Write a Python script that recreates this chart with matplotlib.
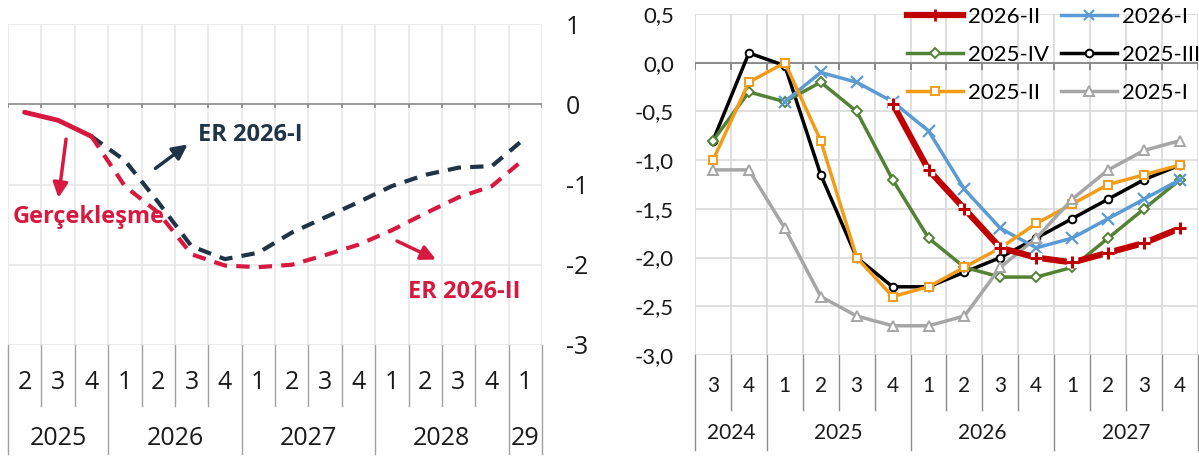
import numpy as np
import matplotlib
matplotlib.use('Agg')
import matplotlib.pyplot as plt
from matplotlib.lines import Line2D
import matplotlib.transforms as mtransforms

# ---- left panel data (2025Q2 .. 2029Q1)
left_quarters = ['2', '3', '4', '1', '2', '3', '4', '1', '2', '3', '4', '1', '2', '3', '4', '1']
left_years = ['2025', '2026', '2027', '2028', '29']
left_year_len = [3, 4, 4, 4, 1]
realized = [-0.10, -0.20, -0.40]
er_2026_1 = [np.nan, np.nan, -0.40, -0.70, -1.22, -1.77, -1.93, -1.85, -1.60, -1.41,
             -1.22, -1.02, -0.88, -0.79, -0.77, -0.42]
er_2026_2 = [np.nan, np.nan, -0.40, -1.02, -1.35, -1.87, -2.01, -2.03, -2.00, -1.88,
             -1.75, -1.57, -1.36, -1.16, -1.02, -0.67]

# ---- right panel data (2024Q3 .. 2027Q4)
right_quarters = ['3', '4', '1', '2', '3', '4', '1', '2', '3', '4', '1', '2', '3', '4']
right_years = ['2024', '2025', '2026', '2027']
right_year_len = [2, 4, 4, 4]
s_2025_1 = [-1.1, -1.1, -1.7, -2.4, -2.6, -2.7, -2.7, -2.6, -2.1, -1.8, -1.4, -1.1, -0.9, -0.8]
s_2025_2 = [-1.0, -0.2, 0.0, -0.8, -2.0, -2.4, -2.3, -2.1, -1.9, -1.65, -1.45, -1.25, -1.15, -1.05]
s_2025_3 = [-0.8, 0.1, -0.03, -1.15, -2.0, -2.3, -2.3, -2.15, -2.0, -1.8, -1.6, -1.4, -1.2, -1.05]
s_2025_4 = [-0.8, -0.3, -0.4, -0.2, -0.5, -1.2, -1.8, -2.1, -2.2, -2.2, -2.1, -1.8, -1.5, -1.2]
s_2026_1 = [np.nan, np.nan, -0.4, -0.1, -0.2, -0.4, -0.7, -1.3, -1.7, -1.9, -1.8, -1.6, -1.4, -1.2]
s_2026_2 = [np.nan, np.nan, np.nan, np.nan, np.nan, -0.42, -1.1, -1.5, -1.9, -2.0, -2.05, -1.95, -1.85, -1.7]

NAVY = '#1f3446'
CRIMSON = '#d7193f'


def category_axis(ax, quarters, years, year_len, q_y, y_y, short, long_, color, fs, family):
    tr = mtransforms.blended_transform_factory(ax.transData, ax.transAxes)
    n = len(quarters)
    for i, q in enumerate(quarters):
        ax.text(i, q_y, q, transform=tr, ha='center', va='center', fontsize=fs,
                family=family, color='#1a1a1a')
    bounds = np.cumsum([0] + year_len)
    for b in range(n + 1):
        yb = long_ if b in bounds else short
        ax.plot([b - 0.5, b - 0.5], [0, yb], transform=tr, color=color, lw=1.0, clip_on=False)
    for k, yr in enumerate(years):
        mid = (bounds[k] + bounds[k + 1]) / 2 - 0.5
        ax.text(mid, y_y, yr, transform=tr, ha='center', va='center', fontsize=fs,
                family=family, color='#1a1a1a')


fig = plt.figure(figsize=(11.99, 4.59), dpi=100)

# ================= left panel
axl = fig.add_axes([8 / 1199, 1 - 345 / 459, 534 / 1199, 321 / 459])
xl = np.arange(len(left_quarters))
axl.set_xlim(-0.5, len(left_quarters) - 0.5)
axl.set_ylim(-3, 1)
for b in range(len(left_quarters) + 1):
    axl.axvline(b - 0.5, color='#e8e8e8', lw=1.2, zorder=0)
for v in [1, -1, -2, -3]:
    axl.axhline(v, color='#e8e8e8', lw=1.2, zorder=0)
axl.axhline(0, color='#8a8a8a', lw=1.2, zorder=1)
axl.vlines(np.arange(len(left_quarters) + 1) - 0.5, -0.05, 0.0, color='#8a8a8a', lw=1.2, zorder=1)
for s in axl.spines.values():
    s.set_visible(False)
axl.set_xticks([])
axl.yaxis.tick_right()
axl.set_yticks([1, 0, -1, -2, -3])
axl.set_yticklabels(['1', '0', '-1', '-2', '-3'])
axl.tick_params(axis='y', length=0, pad=17, labelsize=18, labelcolor='#1a1a1a')
for lab in axl.get_yticklabels():
    lab.set_family('Open Sans')

axl.plot(xl[:3], realized, color=NAVY, lw=2.5, zorder=2)
axl.plot(xl, er_2026_1, color=NAVY, lw=3, dashes=(3.2, 2.2), zorder=3)
axl.plot(xl, er_2026_2, color=CRIMSON, lw=3, dashes=(3.2, 2.2), zorder=4)
axl.plot(xl[:3], realized, color=CRIMSON, lw=3.5, zorder=5, solid_capstyle='round')

tf = dict(fontsize=17, fontweight='bold', family='Open Sans')
axl.text(5.2, -0.38, 'ER 2026-I', color=NAVY, va='center', ha='left', **tf)
axl.annotate('', xy=(4.95, -0.48), xytext=(3.85, -0.82),
             arrowprops=dict(arrowstyle='-|>', color=NAVY, lw=2.5, mutation_scale=22))
axl.text(-0.35, -1.4, 'Gerçekleşme', color=CRIMSON, va='center', ha='left', **tf)
axl.annotate('', xy=(1.0, -1.2), xytext=(1.25, -0.4),
             arrowprops=dict(arrowstyle='-|>', color=CRIMSON, lw=2.5, mutation_scale=22))
axl.text(11.5, -2.34, 'ER 2026-II', color=CRIMSON, va='center', ha='left', **tf)
axl.annotate('', xy=(12.4, -1.95), xytext=(11.08, -1.69),
             arrowprops=dict(arrowstyle='-|>', color=CRIMSON, lw=2.5, mutation_scale=22))

category_axis(axl, left_quarters, left_years, left_year_len, -0.118, -0.29, -0.19, -0.34,
              '#a0a0a0', 18, 'Open Sans')

# ================= right panel
axr = fig.add_axes([695 / 1199, 1 - 355 / 459, 503 / 1199, 341 / 459])
xr = np.arange(len(right_quarters))
axr.set_xlim(-0.5, len(right_quarters) - 0.5)
axr.set_ylim(-3.0, 0.5)
for b in range(len(right_quarters) + 1):
    axr.axvline(b - 0.5, color='#d9d9d9', lw=1.2, zorder=0)
for v in [0.5, -0.5, -1.0, -1.5, -2.0, -2.5, -3.0]:
    axr.axhline(v, color='#d9d9d9', lw=1.2, zorder=0)
axr.axhline(0, color='#8a8a8a', lw=1.4, zorder=1)
axr.vlines(np.arange(len(right_quarters) + 1) - 0.5, -0.07, 0.0, color='#8a8a8a', lw=1.4, zorder=1)
for s in axr.spines.values():
    s.set_visible(False)
axr.set_xticks([])
ticks = [0.5, 0.0, -0.5, -1.0, -1.5, -2.0, -2.5, -3.0]
axr.set_yticks(ticks)
axr.set_yticklabels([f'{t:.1f}'.replace('.', ',') for t in ticks])
axr.tick_params(axis='y', length=0, pad=15, labelsize=16, labelcolor='#1a1a1a')
for lab in axr.get_yticklabels():
    lab.set_family('Lato')

RED, BLUE, GREEN, ORANGE, GRAY = '#c00000', '#5b9bd5', '#548235', '#f39c1a', '#a6a6a6'
mk = dict(markersize=5.5, markerfacecolor='white', markeredgewidth=1.4)
dmk = dict(markersize=5, markerfacecolor='white', markeredgewidth=1.4)
tmk = dict(markersize=6.5, markerfacecolor='white', markeredgewidth=1.4)
axr.plot(xr, s_2025_3, color='black', lw=2.5, marker='o', markeredgecolor='black', zorder=3, **mk)
axr.plot(xr, s_2025_4, color=GREEN, lw=2.5, marker='D', markeredgecolor=GREEN, zorder=3.5, **dmk)
axr.plot(xr, s_2026_1, color=BLUE, lw=2.5, marker='x', markersize=8, markeredgewidth=1.6, zorder=4)
axr.plot(xr, s_2025_2, color=ORANGE, lw=2.5, marker='s', markeredgecolor=ORANGE, zorder=4.5, **mk)
axr.plot(xr, s_2025_1, color=GRAY, lw=2.5, marker='^', markeredgecolor=GRAY, zorder=5, **tmk)
axr.plot(xr, s_2026_2, color=RED, lw=4.5, zorder=6, solid_capstyle='butt')
axr.plot(xr, s_2026_2, ls='none', marker='s', markersize=7, markerfacecolor='white',
         markeredgecolor='white', zorder=6.5)
axr.plot(xr, s_2026_2, ls='none', marker='+', markersize=8, markeredgecolor=RED,
         markeredgewidth=2.2, zorder=7)

h_red = Line2D([], [], color=RED, lw=4.5, marker='+', markersize=8, markeredgecolor=RED, markeredgewidth=2)
h_blue = Line2D([], [], color=BLUE, lw=2.5, marker='x', markersize=7, markeredgewidth=1.5)
h_green = Line2D([], [], color=GREEN, lw=2.5, marker='D', markeredgecolor=GREEN, **dmk)
h_black = Line2D([], [], color='black', lw=2.5, marker='o', markeredgecolor='black', **mk)
h_orange = Line2D([], [], color=ORANGE, lw=2.5, marker='s', markeredgecolor=ORANGE, **mk)
h_gray = Line2D([], [], color=GRAY, lw=2.5, marker='^', markeredgecolor=GRAY, **tmk)
# column-major order so rows read: 2026-II/2026-I, 2025-IV/2025-III, 2025-II/2025-I
handles = [h_red, h_green, h_orange, h_blue, h_black, h_gray]
labels = ['2026-II', '2025-IV', '2025-II', '2026-I', '2025-III', '2025-I']
leg = fig.legend(handles, labels, ncol=2, loc='upper left',
                 bbox_to_anchor=(907 / 1199, 1 - 7 / 459), borderpad=0, borderaxespad=0,
                 frameon=False, handlelength=2.5, handletextpad=0.25, columnspacing=0.55,
                 labelspacing=0.8, prop={'family': 'Lato', 'size': 16})
leg.set_zorder(10)

category_axis(axr, right_quarters, right_years, right_year_len, -0.09, -0.228, -0.16, -0.28,
              '#8a8a8a', 15, 'Lato')

fig.savefig('out.png', dpi=100)
